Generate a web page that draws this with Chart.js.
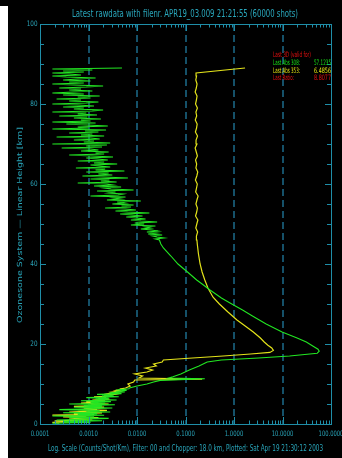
<!DOCTYPE html>
<html>
<head>
<meta charset="utf-8">
<title>Latest rawdata</title>
<script src="https://cdn.jsdelivr.net/npm/chart.js@4.4.1/dist/chart.umd.min.js"></script>
<style>
  html, body { margin: 0; padding: 0; background: #000; overflow: hidden; }
  #edge { position: absolute; left: 0; top: 6px; width: 8px; height: 452px; background: #fff; }
  #plot { position: absolute; left: 0; top: 0; }
</style>
</head>
<body>
<div id="edge"></div>
<canvas id="plot" width="342" height="458"></canvas>
<script>
// altitude (km) and counts/shot/km for the 308 nm channel
const km308 = [
  0.2, 0.4, 0.6, 0.8, 1.0, 1.2, 1.4, 1.6, 1.8, 2.0, 2.2, 2.4, 2.6, 2.8, 3.0,
  3.2, 3.4, 3.6, 3.8, 4.0, 4.2, 4.4, 4.6, 4.8, 5.0, 5.2, 5.4, 5.6, 5.8, 6.0,
  6.2, 6.4, 6.6, 6.8, 7.0, 7.2, 7.4, 7.6, 7.8, 8.0, 8.2, 8.4, 8.6, 8.8,
  9.0, 9.5, 10.0, 10.5, 10.9, 11.3, 11.5, 11.8, 12.5, 13.5, 14.5, 15.5,
  16.0, 16.5, 17.0, 17.7, 18.2, 18.7, 19.5, 20.5, 21.5, 23, 25, 27,
  28.5, 30, 31.5, 33.5, 35, 36, 38, 40, 42, 44, 45,
  46.00, 46.25, 46.50, 46.75, 47.00, 47.25, 47.50, 47.75,
  48.00, 48.25, 48.50, 48.75, 49.00, 49.25, 49.50, 49.75,
  50.00, 50.25, 50.50, 50.75, 51.00, 51.25, 51.50, 51.75,
  52.00, 52.25, 52.50, 52.75, 53.00, 53.25, 53.50, 53.75,
  54.00, 54.25, 54.50, 54.75, 55.00, 55.25, 55.50, 55.75,
  56.00, 56.25, 56.50, 56.75, 57.00, 57.25, 57.50, 57.75,
  58.00, 58.25, 58.50, 58.75, 59.00, 59.25, 59.50, 59.75,
  60.00, 60.25, 60.50, 60.75, 61.00, 61.25, 61.50, 61.75,
  62.00, 62.25, 62.50, 62.75, 63.00, 63.25, 63.50, 63.75,
  64.00, 64.25, 64.50, 64.75, 65.00, 65.25, 65.50, 65.75,
  66.00, 66.25, 66.50, 66.75, 67.00, 67.25, 67.50, 67.75,
  68.00, 68.25, 68.50, 68.75, 69.00, 69.25, 69.50, 69.75,
  70.00, 70.25, 70.50, 70.75, 71.00, 71.25, 71.50, 71.75,
  72.00, 72.25, 72.50, 72.75, 73.00, 73.25, 73.50, 73.75,
  74.00, 74.25, 74.50, 74.75, 75.00, 75.25, 75.50, 75.75,
  76.00, 76.25, 76.50, 76.75, 77.00, 77.25, 77.50, 77.75,
  78.00, 78.25, 78.50, 78.75, 79.00, 79.25, 79.50, 79.75,
  80.00, 80.25, 80.50, 80.75, 81.00, 81.25, 81.50, 81.75,
  82.00, 82.25, 82.50, 82.75, 83.00, 83.25, 83.50, 83.75,
  84.00, 84.25, 84.50, 84.75, 85.00, 85.25, 85.50, 85.75,
  86.00, 86.25, 86.50, 86.75, 87.00, 87.25, 87.50, 87.75,
  88.00, 88.25, 88.50, 88.75, 89.00
];
const counts308 = [
  0.00018, 0.0011, 0.0003, 0.0019, 0.00022, 0.0008, 0.0026, 0.0004, 0.0013, 0.00018, 0.0021, 0.0006, 0.0015, 0.0003, 0.0028,
  0.0009, 0.0017, 0.00025, 0.0012, 0.0031, 0.0005, 0.0019, 0.0008, 0.0035, 0.0004, 0.0022, 0.0011, 0.0029, 0.0007, 0.0038,
  0.0014, 0.0026, 0.0009, 0.0042, 0.0019, 0.0033, 0.0015, 0.0048, 0.0027, 0.0056, 0.0036, 0.0061, 0.0045, 0.0068,
  0.007, 0.01, 0.016, 0.022, 0.03, 0.25, 0.045, 0.055, 0.08, 0.12, 0.19, 0.28,
  0.55, 3.2, 14, 52, 57.1235, 54, 42, 31, 20, 9.8, 4.6, 2.4,
  1.5, 0.9, 0.55, 0.32, 0.22, 0.17, 0.11, 0.07, 0.05, 0.035, 0.031,
  0.029, 0.024, 0.036, 0.026, 0.021, 0.033, 0.017, 0.025,
  0.016, 0.027, 0.02, 0.012, 0.019, 0.015, 0.024, 0.0075,
  0.014, 0.009, 0.026, 0.012, 0.0075, 0.015, 0.0095, 0.006,
  0.013, 0.0078, 0.0045, 0.018, 0.0064, 0.0036, 0.0095, 0.0057,
  0.0022, 0.0075, 0.0048, 0.0085, 0.0031, 0.0055, 0.0039, 0.012,
  0.0024, 0.0046, 0.0033, 0.0058, 0.0011, 0.0041, 0.0052, 0.0026,
  0.0036, 0.0015, 0.0085, 0.0029, 0.0021, 0.0047, 0.0013, 0.0032,
  0.0024, 0.0006, 0.0038, 0.0018, 0.0027, 0.0011, 0.0065, 0.002,
  0.00075, 0.0031, 0.0016, 0.0026, 0.0009, 0.0055, 0.0014, 0.0022,
  0.00055, 0.0028, 0.0017, 0.0011, 0.0039, 0.0013, 0.0021, 0.0006,
  0.0025, 0.0015, 0.0009, 0.0032, 0.0012, 0.0004, 0.0021, 0.0014,
  0.0026, 0.0007, 0.0016, 0.0011, 0.00028, 0.0019, 0.0009, 0.0024,
  0.00018, 0.0028, 0.0008, 0.0013, 0.0005, 0.0017, 0.0011, 0.00022,
  0.0021, 0.0007, 0.0012, 0.0004, 0.0016, 0.00085, 0.0023, 0.00018,
  0.001, 0.0006, 0.0025, 0.0009, 0.00035, 0.0014, 0.00018, 0.0011,
  0.0007, 0.0018, 0.0005, 0.00095, 0.00025, 0.0015, 0.0006, 0.0009,
  0.00018, 0.0012, 0.002, 0.0005, 0.0008, 0.0003, 0.0013, 0.0006,
  0.00018, 0.0009, 0.0016, 0.0004, 0.0007, 0.00022, 0.0011, 0.0006,
  0.0017, 0.0003, 0.0008, 0.00018, 0.0005, 0.0012, 0.0004, 0.0007,
  0.00025, 0.0009, 0.002, 0.0005, 0.00018, 0.0008, 0.0004, 0.0011,
  0.0003, 0.0006, 0.0014, 0.00035, 0.00018, 0.0007, 0.0004, 0.00018,
  0.0008, 0.0003, 0.0012, 0.00018, 0.0049
];

// altitude (km) and counts/shot/km for the 353 nm channel
const km353 = [
  0.2, 0.4, 0.6, 0.8, 1.0, 1.2, 1.4, 1.6, 1.8, 2.0, 2.2, 2.4, 2.6, 2.8, 3.0,
  3.2, 3.4, 3.6, 3.8, 4.0, 4.2, 4.4, 4.6, 4.8, 5.0, 5.2, 5.4, 5.6, 5.8, 6.0,
  6.2, 6.4, 6.6, 6.8, 7.0, 7.2, 7.4, 7.6, 7.8, 8.0, 8.2, 8.4, 8.6, 8.8,
  9.0, 9.5, 10.0, 10.5, 11.0, 11.2, 11.5, 12.0, 12.5, 13.0, 13.5, 14.0, 14.5, 15.0, 15.5, 16.0,
  16.5, 17.0, 17.5, 17.9, 18.4, 19.0, 19.7, 20.5, 21.5, 23, 24.5,
  26, 28, 30, 31.7, 34, 36, 38, 40, 42.5, 45,
  46, 47, 48, 49, 50, 51, 52, 53, 54, 55,
  56, 57, 58, 59, 60, 61, 62, 63, 64, 65,
  66, 67, 68, 69, 70, 71, 72, 73, 74, 75,
  76, 77, 78, 79, 80, 81, 82, 83, 84, 85,
  86, 87, 87.75, 89.0
];
const counts353 = [
  0.00025, 0.00018, 0.0007, 0.0002, 0.0012, 0.0004, 0.0006, 0.0016, 0.0003, 0.0009, 0.00018, 0.0013, 0.0005, 0.0019, 0.0004,
  0.0011, 0.0024, 0.0006, 0.0015, 0.0008, 0.0021, 0.0005, 0.0017, 0.0011, 0.0026, 0.0007, 0.0014, 0.0009, 0.0022, 0.0012,
  0.0027, 0.0016, 0.0023, 0.0013, 0.003, 0.0021, 0.0034, 0.0026, 0.0039, 0.0031, 0.0044, 0.0037, 0.0051, 0.0047,
  0.0058, 0.0072, 0.0065, 0.0085, 0.009, 0.22, 0.011, 0.013, 0.009, 0.016, 0.021, 0.015, 0.025, 0.022, 0.033, 0.035,
  0.14, 0.6, 2.2, 5.5, 6.4856, 6.0, 5.0, 4.2, 3.5, 2.5, 1.7,
  1.15, 0.75, 0.5, 0.37, 0.29, 0.25, 0.22, 0.2, 0.185, 0.175,
  0.172, 0.168, 0.178, 0.163, 0.171, 0.18, 0.161, 0.17, 0.176, 0.164,
  0.172, 0.182, 0.162, 0.169, 0.175, 0.16, 0.171, 0.179, 0.164, 0.17,
  0.161, 0.176, 0.167, 0.158, 0.172, 0.165, 0.177, 0.16, 0.169, 0.174,
  0.159, 0.17, 0.164, 0.176, 0.161, 0.168, 0.173, 0.158, 0.167, 0.173,
  0.163, 0.169, 0.165, 1.69
];

const decadeValues = [0.0001, 0.001, 0.01, 0.1, 1, 10, 100];
const decadeLabels = ['0.0001', '0.0010', '0.0100', '0.1000', '1.0000', '10.0000', '100.0000'];
const heightTicks = [0, 20, 40, 60, 80, 100];
const heightLabels = ['0', '20', '40', '60', '80', '100'];

const titleText = 'Latest rawdata with filenr. APR19_03.009 21:21:55 (60000 shots)';
const footText = 'Log. Scale (Counts/Shot/Km), Filter: 00 and Chopper: 18.0 km, Plotted: Sat Apr 19 21:30:12 2003';
const sideText = 'Ozonesone System \u2014 Linear Height [km]';

const peak308 = Math.max(...counts308);
const peak353 = Math.max(...counts353.slice(0, -1));
const legendNames = ['Last 3D (valid for)', 'Last Abs 308:', 'Last Abs 353:', 'Last Ratio:'];
const legendValues = ['', peak308.toFixed(4), peak353.toFixed(4), (peak308 / peak353).toFixed(4)];

const axisColor = '#1f8ea8';
const gridColor = '#1d6c8c';
const textColor = '#29a6bb';
const legendColors = ['#e81010', '#18e818', '#e6e610', '#e81010'];
const fontFamily = '"Liberation Sans Narrow", "DejaVu Sans Condensed", sans-serif';

function toPoints(heights, counts) {
    return heights.map((h, i) => ({ x: counts[i], y: h }));
}

// draws text centred on (x, y), squeezed or stretched to the given width
function fitText(ctx, text, x, y, width, size, color, angle) {
    ctx.save();
    ctx.font = size + 'px ' + fontFamily;
    ctx.fillStyle = color;
    ctx.textBaseline = 'middle';
    ctx.textAlign = 'left';
    const w = ctx.measureText(text).width;
    ctx.translate(x, y);
    if (angle) ctx.rotate(angle);
    ctx.scale(width / w, 1);
    ctx.fillText(text, -w / 2, 0);
    ctx.restore();
}

const framePlugin = {
    id: 'frame',
    beforeDatasetsDraw(chart) {
        const { ctx, chartArea: a, scales } = chart;
        ctx.save();
        ctx.strokeStyle = gridColor;
        ctx.lineWidth = 1.5;
        ctx.setLineDash([7, 4]);
        decadeValues.slice(1, -1).forEach(v => {
            const px = Math.round(scales.x.getPixelForValue(v));
            ctx.beginPath();
            ctx.moveTo(px, a.top);
            ctx.lineTo(px, a.bottom);
            ctx.stroke();
        });
        ctx.restore();
    },
    afterDatasetsDraw(chart) {
        const { ctx, chartArea: a, scales } = chart;
        ctx.save();
        ctx.strokeStyle = axisColor;
        ctx.lineWidth = 1;
        ctx.strokeRect(a.left + 0.5, a.top + 0.5, a.right - a.left, a.bottom - a.top);

        // log ticks on bottom and top
        ctx.beginPath();
        for (let d = -4; d <= 2; d++) {
            for (let m = 1; m <= 9; m++) {
                const v = m * Math.pow(10, d);
                if (v > 100.0001) break;
                const px = Math.round(scales.x.getPixelForValue(v)) + 0.5;
                const len = m === 1 ? 7 : 3.5;
                ctx.moveTo(px, a.bottom);
                ctx.lineTo(px, a.bottom - len);
                ctx.moveTo(px, a.top);
                ctx.lineTo(px, a.top + len);
            }
        }
        // height ticks every 5 km on both sides
        for (let h = 0; h <= 100; h += 5) {
            const py = Math.round(scales.y.getPixelForValue(h)) + 0.5;
            const len = h % 20 === 0 ? 6 : 4;
            ctx.moveTo(a.left, py);
            ctx.lineTo(a.left + len, py);
            ctx.moveTo(a.right, py);
            ctx.lineTo(a.right - len, py);
        }
        ctx.stroke();
        ctx.restore();

        decadeLabels.forEach((label, i) => {
            const px = scales.x.getPixelForValue(decadeValues[i]);
            fitText(ctx, label, px, a.bottom + 10, label.length * 3.1, 7.5, textColor);
        });
        heightLabels.forEach((label, i) => {
            const py = scales.y.getPixelForValue(heightTicks[i]);
            const w = label.length * 3.6;
            fitText(ctx, label, a.left - 2.5 - w / 2, py, w, 7.5, textColor);
        });

        fitText(ctx, titleText, 185, 14, 226, 10, textColor);
        fitText(ctx, footText, 185.5, 449, 275, 8, textColor);
        fitText(ctx, sideText, 20, 225, 196, 7, textColor, -Math.PI / 2);

        const rows = [55, 63, 71, 78.5];
        const nameWidths = [38, 27, 27, 21];
        legendNames.forEach((name, i) => {
            fitText(ctx, name, 273 + nameWidths[i] / 2, rows[i], nameWidths[i], 7.5, legendColors[i]);
            if (legendValues[i]) {
                fitText(ctx, legendValues[i], 314 + 8.5, rows[i], 17, 7.5, legendColors[i]);
            }
        });
    }
};

const ctx = document.getElementById('plot').getContext('2d');
const chart = new Chart(ctx, {
    type: 'scatter',
    data: {
        datasets: [
            {
                label: 'Abs 308',
                data: toPoints(km308, counts308),
                showLine: true,
                borderColor: '#22e622',
                borderWidth: 1.1,
                pointRadius: 0,
                tension: 0,
                order: 0
            },
            {
                label: 'Abs 353',
                data: toPoints(km353, counts353),
                showLine: true,
                borderColor: '#e2e21a',
                borderWidth: 1.2,
                pointRadius: 0,
                tension: 0,
                order: 1
            }
        ]
    },
    options: {
        responsive: false,
        animation: false,
        layout: { padding: { left: 40, top: 24, right: 11, bottom: 34 } },
        plugins: {
            legend: { display: false },
            tooltip: { enabled: false },
            title: { display: false }
        },
        scales: {
            x: { type: 'logarithmic', min: 0.0001, max: 100, display: false },
            y: { type: 'linear', min: 0, max: 100, display: false }
        }
    },
    plugins: [framePlugin]
});
</script>
</body>
</html>
